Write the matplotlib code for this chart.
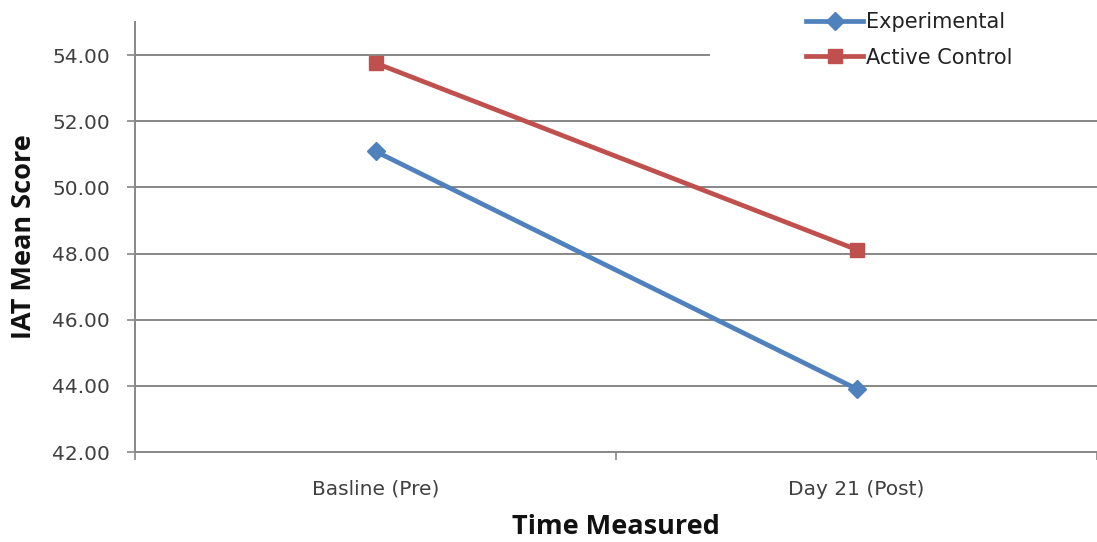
import numpy as np
import matplotlib.pyplot as plt
from matplotlib.patches import Rectangle

# data
categories = ["Basline (Pre)", "Day 21 (Post)"]
experimental = [51.09, 43.91]
active_control = [53.76, 48.12]

BLUE = "#4F81BD"
RED = "#C0504D"
GRID = "#878787"
TEXT = "#404040"

fig = plt.figure(figsize=(10.97, 5.42), dpi=100)
ax = fig.add_axes([135 / 1097, 1 - 452 / 542, 1 - 135 / 1097, (452 - 22) / 542])

x = np.arange(len(categories))
ax.plot(x, experimental, color=BLUE, lw=3.4, marker="D", markersize=9,
        label="Experimental", zorder=3)
ax.plot(x, active_control, color=RED, lw=3.4, marker="s", markersize=10.5,
        label="Active Control", zorder=3)

ax.set_xlim(-0.5, 1.5)
ax.set_ylim(42, 55)
ax.set_yticks(np.arange(42, 55, 2))
ax.set_yticklabels(["%.2f" % v for v in np.arange(42, 55, 2)])
ax.set_xticks(x)
ax.set_xticklabels(categories)
ax.set_xticks([-0.5, 0.5, 1.5], minor=True)
ax.tick_params(axis="x", which="major", length=0, pad=20, labelsize=14.5, labelcolor=TEXT)
ax.tick_params(axis="x", which="minor", length=6, width=1.2, color=GRID, direction="out")
ax.tick_params(axis="y", length=6, width=1.2, color=GRID, pad=12, labelsize=14.5, labelcolor=TEXT)

ax.grid(axis="y", color=GRID, lw=1.4)
ax.set_axisbelow(True)
for s in ["top", "right"]:
    ax.spines[s].set_visible(False)
for s in ["left", "bottom"]:
    ax.spines[s].set_color(GRID)
    ax.spines[s].set_linewidth(1.4)

# legend area box hides the top gridline on the right
ax.add_patch(Rectangle(((710 - 135) / 962, 0.86), 0.5, 0.2, transform=ax.transAxes,
                       facecolor="white", edgecolor="none", zorder=1, clip_on=False))

leg = ax.legend(loc="upper left", bbox_to_anchor=(806 / 1097, 1 - 12 / 542),
                bbox_transform=fig.transFigure, frameon=False,
                fontsize=15, handlelength=2.75, handletextpad=0.15,
                labelspacing=0.75, borderpad=0, borderaxespad=0)
for t in leg.get_texts():
    t.set_color("#222222")

fig.text(24 / 1097, 1 - 237 / 542, "IAT Mean Score", rotation=90, ha="center",
         va="center", fontsize=19.5, fontweight="bold", family="Open Sans", color="#111111")
fig.text(616 / 1097, 1 - 527 / 542, "Time Measured", ha="center", va="center",
         fontsize=19.5, fontweight="bold", family="Open Sans", color="#111111")

fig.savefig("out.png", dpi=100)
